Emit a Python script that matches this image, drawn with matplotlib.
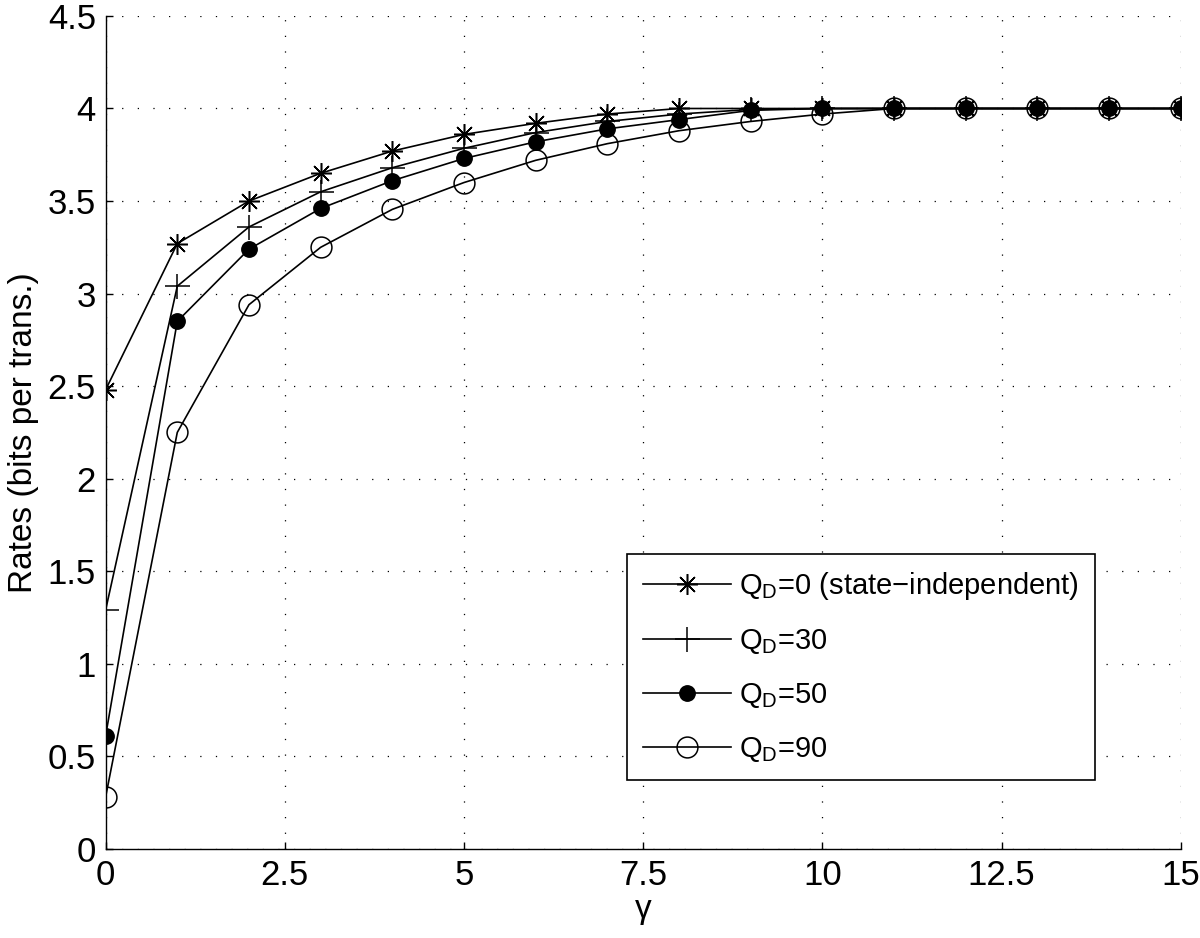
import numpy as np
import matplotlib
matplotlib.use("Agg")
import matplotlib.pyplot as plt

plt.rcParams['font.family'] = ['Liberation Sans', 'DejaVu Sans']
plt.rcParams['mathtext.fontset'] = 'custom'
plt.rcParams['mathtext.rm'] = 'Liberation Sans'
plt.rcParams['mathtext.it'] = 'Liberation Sans'

gamma = np.arange(0, 16)

r_q0 = [2.48, 3.27, 3.50, 3.65, 3.77, 3.86, 3.92, 3.97, 4.00, 4.00, 4.00, 4.00, 4.00, 4.00, 4.00, 4.00]
r_q30 = [1.29, 3.04, 3.36, 3.55, 3.68, 3.785, 3.87, 3.93, 3.97, 3.995, 4.00, 4.00, 4.00, 4.00, 4.00, 4.00]
r_q50 = [0.61, 2.85, 3.24, 3.46, 3.61, 3.73, 3.82, 3.89, 3.94, 3.99, 4.00, 4.00, 4.00, 4.00, 4.00, 4.00]
r_q90 = [0.28, 2.25, 2.94, 3.25, 3.455, 3.60, 3.72, 3.81, 3.88, 3.93, 3.97, 4.00, 4.00, 4.00, 4.00, 4.00]

labels = ['Q$_\\mathrm{D}$=0 (state\u2212independent)', 'Q$_\\mathrm{D}$=30',
          'Q$_\\mathrm{D}$=50', 'Q$_\\mathrm{D}$=90']

fig = plt.figure(figsize=(12, 9.38), dpi=100)
ax = fig.add_axes([0.088, 0.095, 0.896, 0.888])

lw = 1.2
ax.plot(gamma, r_q0, color='k', lw=lw, marker=(8, 2, 0), ms=15, mew=1.1, label=labels[0])
ax.plot(gamma, r_q30, color='k', lw=lw, marker='+', ms=18, mew=1.1, label=labels[1])
ax.plot(gamma, r_q50, color='k', lw=lw, marker='o', ms=11, mfc='k', mew=1.1, label=labels[2])
ax.plot(gamma, r_q90, color='k', lw=lw, marker='o', ms=15, mfc='none', mew=1.1, label=labels[3])

ax.set_xlim(0, 15)
ax.set_ylim(0, 4.5)
ax.set_xticks([0, 2.5, 5, 7.5, 10, 12.5, 15])
ax.set_xticklabels(['0', '2.5', '5', '7.5', '10', '12.5', '15'])
ax.set_yticks(np.arange(0, 4.51, 0.5))
ax.set_yticklabels(['0', '0.5', '1', '1.5', '2', '2.5', '3', '3.5', '4', '4.5'])

ax.grid(True, color='k', linestyle=(0, (1, 11.5)), linewidth=0.9)
ax.spines['top'].set_visible(False)
ax.spines['right'].set_visible(False)
ax.spines['left'].set_linewidth(1.0)
ax.spines['bottom'].set_linewidth(1.0)
ax.tick_params(direction='in', length=5, width=1.0, labelsize=25, pad=7)

ax.set_xlabel('\u03b3', fontsize=24, labelpad=2)
ax.set_ylabel('Rates (bits per trans.)', fontsize=24, labelpad=6)

leg = ax.legend(loc='lower left', bbox_to_anchor=(0.485, 0.083), fontsize=21,
                frameon=True, fancybox=False, edgecolor='k', framealpha=1,
                handlelength=3.0, borderpad=0.55, labelspacing=0.85, handletextpad=0.3,
                borderaxespad=0)
leg.get_frame().set_linewidth(1.2)

fig.savefig('out.png', dpi=100)
